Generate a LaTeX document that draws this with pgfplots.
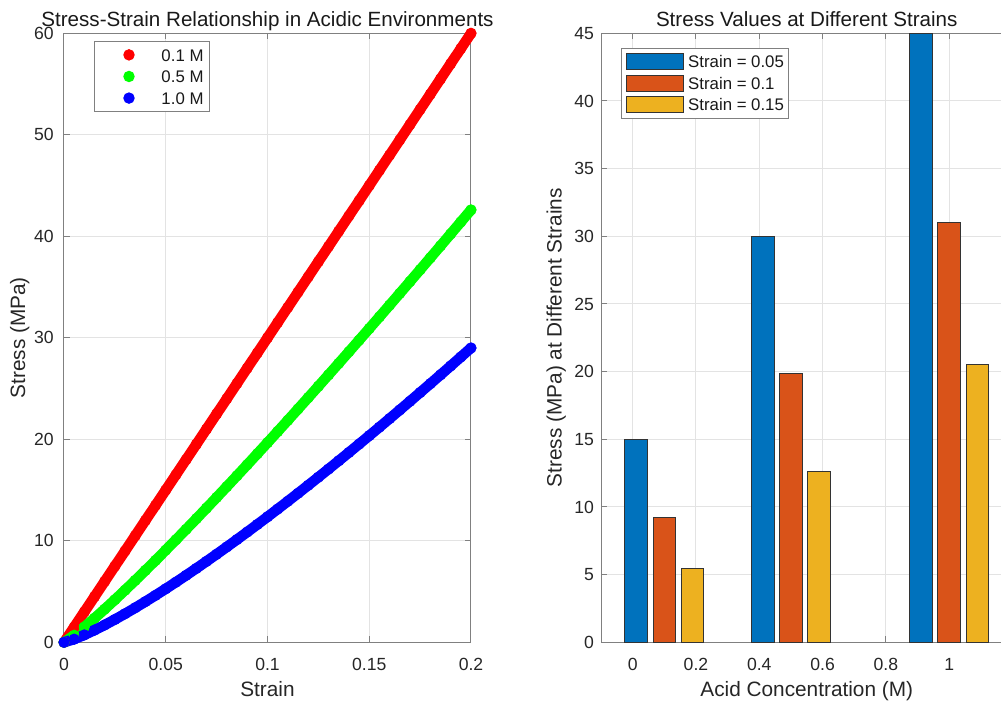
\documentclass[border=0pt]{standalone}
\usepackage{pgfplots}
\pgfplotsset{compat=1.18}
\usepackage{pgfplotstable}
\usepackage{fontspec}
\setmainfont{Liberation Sans}
\definecolor{mblue}{rgb}{0,0.447,0.741}
\definecolor{morange}{rgb}{0.85,0.325,0.098}
\definecolor{myellow}{rgb}{0.929,0.694,0.125}
\definecolor{axgray}{gray}{0.5}
\definecolor{txt}{gray}{0.15}

\pgfplotstableread{
x r g b
0 0 0 0
0.005 1.5 0.697 0.310
0.010 3 1.509 0.728
0.015 4.5 2.372 1.199
0.020 6 3.269 1.708
0.025 7.5 4.192 2.247
0.030 9 5.138 2.812
0.035 10.5 6.101 3.399
0.040 12 7.080 4.006
0.045 13.5 8.074 4.630
0.050 15 9.081 5.271
0.055 16.5 10.099 5.926
0.060 18 11.128 6.596
0.065 19.5 12.166 7.278
0.070 21 13.214 7.973
0.075 22.5 14.271 8.679
0.080 24 15.336 9.396
0.085 25.5 16.408 10.123
0.090 27 17.488 10.861
0.095 28.5 18.575 11.607
0.100 30 19.668 12.363
0.105 31.5 20.768 13.128
0.110 33 21.873 13.901
0.115 34.5 22.985 14.682
0.120 36 24.102 15.471
0.125 37.5 25.224 16.268
0.130 39 26.352 17.072
0.135 40.5 27.484 17.883
0.140 42 28.622 18.701
0.145 43.5 29.764 19.526
0.150 45 30.910 20.358
0.155 46.5 32.061 21.195
0.160 48 33.217 22.039
0.165 49.5 34.376 22.890
0.170 51 35.540 23.746
0.175 52.5 36.707 24.608
0.180 54 37.878 25.475
0.185 55.5 39.053 26.348
0.190 57 40.232 27.227
0.195 58.5 41.414 28.111
0.200 60 42.6 29.0
}\curves

\pgfplotstableread{
x y
0.0111 15
0.4111 30
0.9111 45
}\barA
\pgfplotstableread{
x y
0.1 9.24
0.5 19.83
1.0 31.0
}\barB
\pgfplotstableread{
x y
0.1889 5.47
0.5889 12.59
1.0889 20.5
}\barC

\pgfplotsset{
 mystyle/.style={
  scale only axis, height=304.5pt,
  axis line style={axgray, line width=0.5pt},
  every tick/.style={axgray, line width=0.5pt},
  major tick length=3pt,
  tick align=inside,
  grid=major,
  major grid style={black!11, line width=0.5pt},
  /pgf/number format/assume math mode=true,
  ticklabel style={font=\fontsize{8.8}{10}\selectfont, text=txt},
  label style={font=\fontsize{10.4}{12}\selectfont, text=txt},
  title style={font=\fontsize{10.3}{12}\selectfont, text=black!90, at={(axis description cs:0.5,1.0115)}, anchor=base, yshift=-6.25pt},
  xticklabel style={yshift=-4.6pt},
  xlabel style={at={(axis description cs:0.5,-0.0898)}, anchor=base},
  legend style={font=\fontsize{8.4}{10}\selectfont, draw=axgray, line width=0.5pt, text=black!90, anchor=north west,
     cells={anchor=west}, nodes={inner xsep=0pt, inner ysep=2.3pt, text height=6.2pt, text depth=0pt}, row sep=0pt},
 }
}

\begin{document}
\begin{tikzpicture}
\path[use as bounding box] (-32pt,-29.85pt) rectangle (468.5pt,321.15pt);
\clip (-32pt,-29.85pt) rectangle (468.5pt,321.15pt);

\begin{axis}[mystyle, at={(0pt,0pt)}, anchor=south west, width=203.5pt,
  xmin=0, xmax=0.2, ymin=0, ymax=60,
  xtick={0,0.05,0.1,0.15,0.2}, xticklabels={0,0.05,0.1,0.15,0.2},
  ytick={0,10,20,30,40,50,60},
  yticklabel style={xshift=-1.6pt},
  ylabel style={at={(axis description cs:-0.0958,0.5)}, anchor=base},
  clip=false,
  title={Stress-Strain Relationship in Acidic Environments},
  xlabel={Strain}, ylabel={Stress (MPa)},
  legend style={at={(axis description cs:0.0737,0.9874)}, inner xsep=3pt, inner ysep=1.3pt},
  legend image code/.code={\path (0pt,0pt) (30pt,0pt); \fill[#1] (14pt,0pt) circle (2.6pt);},
]
\addplot[red, line width=5.2pt, line cap=round, line join=round, forget plot] table[x=x, y=r] {\curves};
\addplot[red, only marks, mark=*, mark size=2.6pt] table[x=x, y=r] {\curves};
\addplot[green, line width=5.2pt, line cap=round, line join=round, forget plot] table[x=x, y=g] {\curves};
\addplot[green, only marks, mark=*, mark size=2.6pt] table[x=x, y=g] {\curves};
\addplot[blue, line width=5.2pt, line cap=round, line join=round, forget plot] table[x=x, y=b] {\curves};
\addplot[blue, only marks, mark=*, mark size=2.6pt] table[x=x, y=b] {\curves};
\legend{0.1 M, 0.5 M, 1.0 M}
\end{axis}

\begin{axis}[mystyle, at={(268.5pt,0pt)}, anchor=south west, width=205.75pt,
  xmin=-0.1, xmax=1.2, ymin=0, ymax=45,
  xtick={0,0.2,0.4,0.6,0.8,1}, xticklabels={0,0.2,0.4,0.6,0.8,1},
  ytick={0,5,10,15,20,25,30,35,40,45},
  yticklabel style={xshift=0pt},
  ylabel style={at={(axis description cs:-0.0955,0.5)}, anchor=base},
  title={Stress Values at Different Strains},
  xlabel={Acid Concentration (M)}, ylabel={Stress (MPa) at Different Strains},
  legend style={at={(axis description cs:0.0479,0.9764)}, inner xsep=2.5pt, inner ysep=1.3pt},
  legend image code/.code={\path (0pt,0pt) (30.5pt,0pt); \draw[#1] (0pt,-4pt) rectangle (28.5pt,4pt);},
]
\addplot[ybar, bar width=0.0711, bar shift=0pt, fill=mblue, draw=black!80, line width=0.5pt] table[x=x, y=y] {\barA};
\addplot[ybar, bar width=0.0711, bar shift=0pt, fill=morange, draw=black!80, line width=0.5pt] table[x=x, y=y] {\barB};
\addplot[ybar, bar width=0.0711, bar shift=0pt, fill=myellow, draw=black!80, line width=0.5pt] table[x=x, y=y] {\barC};
\legend{Strain = 0.05, Strain = 0.1, Strain = 0.15}
\end{axis}
\end{tikzpicture}
\end{document}
